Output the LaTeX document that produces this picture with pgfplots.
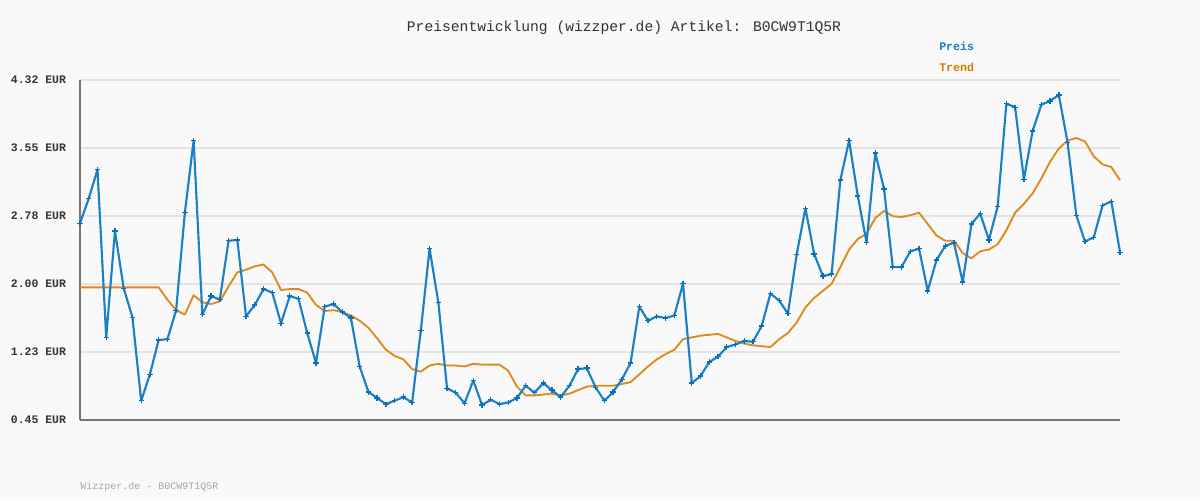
\documentclass[border=0pt]{standalone}
\usepackage{pgfplots}
\usepackage{pgfplotstable}
\pgfplotsset{compat=1.18}
\usepackage{fontspec}
\setmainfont{Liberation Mono}
\definecolor{bg}{HTML}{F9F9F9}
\definecolor{preis}{HTML}{1A80C8}
\definecolor{preismark}{HTML}{0A6FB8}
\definecolor{trend}{HTML}{E08A1E}
\definecolor{trendtxt}{HTML}{D97A00}
\definecolor{gridc}{HTML}{E4E4E4}
\definecolor{axisc}{HTML}{777777}
\definecolor{txt}{HTML}{333333}
\pgfplotstableread{
x p t
0 2.69 1.96
1 2.97 1.96
2 3.30 1.96
3 1.39 1.96
4 2.60 1.96
5 1.95 1.96
6 1.62 1.96
7 0.67 1.96
8 0.97 1.96
9 1.36 1.96
10 1.37 1.82
11 1.70 1.70
12 2.81 1.65
13 3.63 1.87
14 1.65 1.79
15 1.86 1.77
16 1.82 1.80
17 2.49 1.97
18 2.50 2.13
19 1.63 2.16
20 1.76 2.20
21 1.94 2.22
22 1.90 2.13
23 1.55 1.93
24 1.86 1.94
25 1.83 1.94
26 1.44 1.90
27 1.10 1.76
28 1.74 1.69
29 1.77 1.70
30 1.68 1.68
31 1.61 1.64
32 1.06 1.58
33 0.77 1.50
34 0.70 1.38
35 0.63 1.25
36 0.67 1.18
37 0.71 1.14
38 0.65 1.03
39 1.47 1.00
40 2.40 1.07
41 1.79 1.09
42 0.81 1.07
43 0.76 1.07
44 0.64 1.06
45 0.90 1.09
46 0.62 1.08
47 0.68 1.08
48 0.63 1.08
49 0.65 1.01
50 0.70 0.83
51 0.84 0.73
52 0.76 0.73
53 0.87 0.74
54 0.79 0.75
55 0.71 0.73
56 0.84 0.75
57 1.03 0.79
58 1.04 0.83
59 0.82 0.84
60 0.67 0.84
61 0.77 0.84
62 0.91 0.86
63 1.10 0.88
64 1.74 0.97
65 1.58 1.06
66 1.63 1.14
67 1.61 1.20
68 1.64 1.25
69 2.00 1.37
70 0.87 1.39
71 0.95 1.41
72 1.11 1.42
73 1.17 1.43
74 1.28 1.39
75 1.31 1.35
76 1.35 1.32
77 1.34 1.30
78 1.52 1.29
79 1.89 1.28
80 1.81 1.37
81 1.66 1.44
82 2.33 1.56
83 2.86 1.73
84 2.34 1.84
85 2.09 1.92
86 2.11 2.00
87 3.18 2.19
88 3.63 2.39
89 3.00 2.51
90 2.47 2.57
91 3.49 2.75
92 3.08 2.83
93 2.19 2.77
94 2.19 2.76
95 2.37 2.78
96 2.40 2.81
97 1.92 2.68
98 2.27 2.55
99 2.43 2.49
100 2.47 2.49
101 2.02 2.35
102 2.68 2.29
103 2.80 2.37
104 2.50 2.39
105 2.88 2.45
106 4.05 2.61
107 4.01 2.81
108 3.19 2.91
109 3.74 3.03
110 4.04 3.20
111 4.08 3.39
112 4.15 3.54
113 3.61 3.63
114 2.78 3.66
115 2.48 3.62
116 2.53 3.45
117 2.89 3.36
118 2.94 3.33
119 2.36 3.18
}\datatable
\begin{document}
\begin{tikzpicture}[x=0.75pt,y=0.75pt]
\fill[bg] (0,0) rectangle (1200,500);
\begin{axis}[
  at={(60pt,60pt)}, anchor=south west,
  scale only axis, width=780pt, height=255pt,
  xmin=0, xmax=119, ymin=0.45, ymax=4.32,
  axis x line*=bottom, axis y line*=left,
  axis line style={axisc, line width=1.3pt, -},
  xtick=\empty,
  ytick={0.45,1.224,1.998,2.772,3.546,4.32},
  yticklabels={0.45 EUR,1.23 EUR,2.00 EUR,2.78 EUR,3.55 EUR,4.32 EUR},
  yticklabel style={font=\fontsize{8.6}{10}\selectfont\bfseries, text=txt, anchor=east, xshift=-7pt},
  major tick length=0pt,
  ymajorgrids, grid style={gridc, line width=1.5pt},
  clip=false,
  axis background/.style={fill=bg},
]
\addplot[trend, line width=1.4pt, no marks, line join=round] table[x=x, y=t] {\datatable};
\addplot[preis, line width=1.6pt, line join=round, mark=+, mark size=2pt, mark options={preismark, line width=1pt}] table[x=x, y=p] {\datatable};
\end{axis}
\node[font=\fontsize{11}{13}\selectfont, text=txt] at (624,472) {Preisentwicklung (wizzper.de) Artikel: B0CW9T1Q5R};
\node[font=\fontsize{8.7}{10}\selectfont\bfseries, text=preis, anchor=west, inner sep=0pt] at (939,454) {Preis};
\node[font=\fontsize{8.7}{10}\selectfont\bfseries, text=trendtxt, anchor=west, inner sep=0pt] at (939,433) {Trend};
\node[font=\fontsize{7.5}{9}\selectfont, text=gray!70, anchor=west, inner sep=0pt] at (80,13) {Wizzper.de - B0CW9T1Q5R};
\end{tikzpicture}
\end{document}
